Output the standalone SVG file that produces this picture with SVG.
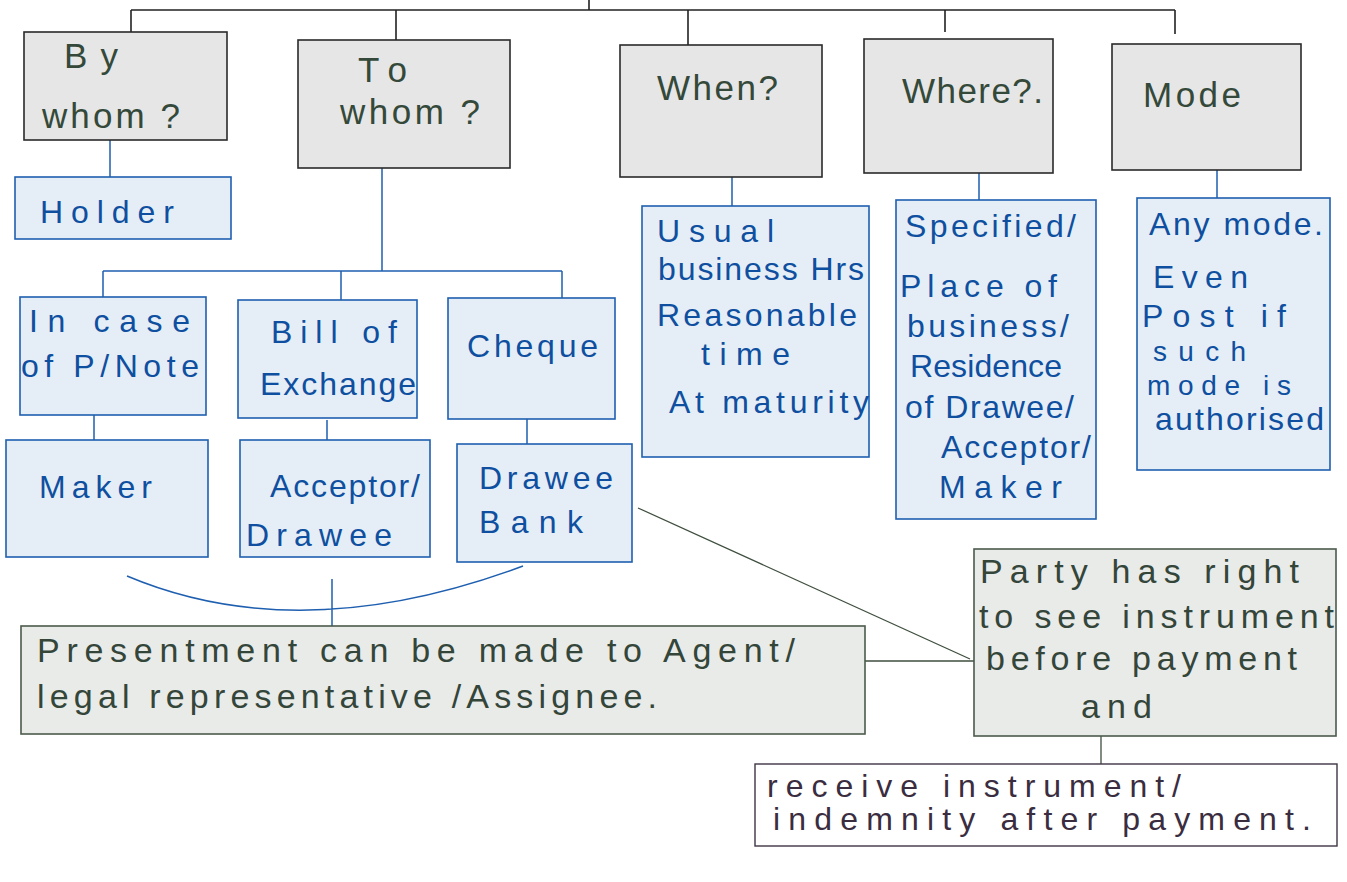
<svg xmlns="http://www.w3.org/2000/svg" width="1347" height="882" viewBox="0 0 1347 882">
<style>
  .hdr{fill:#e6e6e6;stroke:#2a2a2a;stroke-width:1.6}
  .blu{fill:#e5eef7;stroke:#1f5fb0;stroke-width:1.6}
  .grn{fill:#e9ebe8;stroke:#4a5a4a;stroke-width:1.6}
  .wht{fill:#ffffff;stroke:#3f3444;stroke-width:1.4}
  text{font-family:"Liberation Sans",Arial,sans-serif}
  .th{fill:#34493a;font-size:35px}
  .tb{fill:#0f4fa0;font-size:32px}
  .ts{fill:#0f4fa0;font-size:28px}
  .tg{fill:#34453a;font-size:34px}
  .tp{fill:#3a2d40;font-size:32px}
  .lk{stroke:#222;stroke-width:1.6;fill:none}
  .lb{stroke:#1f5fb0;stroke-width:1.5;fill:none}
  .lg{stroke:#3f4f3f;stroke-width:1.3;fill:none}
</style>
<rect width="1347" height="882" fill="#ffffff"/>
<g id="connectors">
  <path class="lk" d="M589 0V10M131 10H1175M131 10V32M396 10V40M688 10V45M945 10V32M1175 10V34"/>
  <path class="lb" d="M110 140V177M382 168V271M103 271H562M103 271V297M341 271V300M562 271V298M94 415V440M327 420V440M527 419V444M732 177V206M979 173V200M1217 170V198"/>
  <path class="lb" d="M127 576Q300 649 523 566M332 579V626"/>
  <path class="lg" d="M865 661H974M638 508L970 659M1101 736V764"/>
</g>
<g id="by-whom"><rect class="hdr" x="24" y="32" width="203" height="108"/><text class="th" x="64" y="68" textLength="54" lengthAdjust="spacing">By</text><text class="th" x="42" y="128" textLength="138" lengthAdjust="spacing">whom ?</text></g>
<g id="to-whom"><rect class="hdr" x="298" y="40" width="212" height="128"/><text class="th" x="358" y="82" textLength="49" lengthAdjust="spacing">To</text><text class="th" x="340" y="124" textLength="140" lengthAdjust="spacing">whom ?</text></g>
<g id="when"><rect class="hdr" x="620" y="45" width="202" height="132"/><text class="th" x="657" y="100" textLength="121" lengthAdjust="spacing">When?</text></g>
<g id="where"><rect class="hdr" x="864" y="39" width="189" height="134"/><text class="th" x="902" y="103" textLength="141" lengthAdjust="spacing">Where?.</text></g>
<g id="mode"><rect class="hdr" x="1112" y="44" width="189" height="126"/><text class="th" x="1143" y="107" textLength="98" lengthAdjust="spacing">Mode</text></g>
<g id="holder"><rect class="blu" x="15" y="177" width="216" height="62"/><text class="tb" x="40" y="223" textLength="134" lengthAdjust="spacing">Holder</text></g>
<g id="usual"><rect class="blu" x="642" y="206" width="227" height="251"/>
  <text class="tb" x="657" y="242" textLength="117" lengthAdjust="spacing">Usual</text>
  <text class="tb" x="658" y="280" textLength="206" lengthAdjust="spacing">business Hrs</text>
  <text class="tb" x="657" y="326" textLength="200" lengthAdjust="spacing">Reasonable</text>
  <text class="tb" x="701" y="365" textLength="89" lengthAdjust="spacing">time</text>
  <text class="tb" x="669" y="413" textLength="200" lengthAdjust="spacing">At maturity</text></g>
<g id="specified"><rect class="blu" x="896" y="200" width="200" height="319"/>
  <text class="tb" x="905" y="237" textLength="171" lengthAdjust="spacing">Specified/</text>
  <text class="tb" x="900" y="297" textLength="157" lengthAdjust="spacing">Place of</text>
  <text class="tb" x="907" y="337" textLength="162" lengthAdjust="spacing">business/</text>
  <text class="tb" x="910" y="377" textLength="152" lengthAdjust="spacing">Residence</text>
  <text class="tb" x="905" y="418" textLength="169" lengthAdjust="spacing">of Drawee/</text>
  <text class="tb" x="941" y="458" textLength="150" lengthAdjust="spacing">Acceptor/</text>
  <text class="tb" x="939" y="498" textLength="123" lengthAdjust="spacing">Maker</text></g>
<g id="any-mode"><rect class="blu" x="1137" y="198" width="193" height="272"/>
  <text class="tb" x="1149" y="235" textLength="174" lengthAdjust="spacing">Any mode.</text>
  <text class="tb" x="1153" y="288" textLength="95" lengthAdjust="spacing">Even</text>
  <text class="tb" x="1142" y="327" textLength="144" lengthAdjust="spacing">Post if</text>
  <text class="ts" x="1153" y="361" textLength="93" lengthAdjust="spacing">such</text>
  <text class="ts" x="1147" y="395" textLength="144" lengthAdjust="spacing">mode is</text>
  <text class="tb" x="1155" y="430" textLength="169" lengthAdjust="spacing">authorised</text></g>
<g id="in-case"><rect class="blu" x="20" y="297" width="186" height="118"/>
  <text class="tb" x="29" y="332" textLength="161" lengthAdjust="spacing">In case</text>
  <text class="tb" x="21" y="377" textLength="178" lengthAdjust="spacing">of P/Note</text></g>
<g id="bill"><rect class="blu" x="238" y="300" width="179" height="118"/>
  <text class="tb" x="271" y="343" textLength="126" lengthAdjust="spacing">Bill of</text>
  <text class="tb" x="260" y="395" textLength="156" lengthAdjust="spacing">Exchange</text></g>
<g id="cheque"><rect class="blu" x="448" y="298" width="167" height="121"/>
  <text class="tb" x="467" y="357" textLength="131" lengthAdjust="spacing">Cheque</text></g>
<g id="maker"><rect class="blu" x="6" y="440" width="202" height="117"/>
  <text class="tb" x="39" y="498" textLength="113" lengthAdjust="spacing">Maker</text></g>
<g id="acceptor"><rect class="blu" x="240" y="440" width="190" height="117"/>
  <text class="tb" x="270" y="497" textLength="150" lengthAdjust="spacing">Acceptor/</text>
  <text class="tb" x="246" y="546" textLength="146" lengthAdjust="spacing">Drawee</text></g>
<g id="drawee-bank"><rect class="blu" x="457" y="444" width="175" height="118"/>
  <text class="tb" x="479" y="489" textLength="134" lengthAdjust="spacing">Drawee</text>
  <text class="tb" x="479" y="533" textLength="104" lengthAdjust="spacing">Bank</text></g>
<g id="presentment"><rect class="grn" x="21" y="626" width="844" height="108"/>
  <text class="tg" x="37" y="662" textLength="758" lengthAdjust="spacing">Presentment can be made to Agent/</text>
  <text class="tg" x="37" y="708" textLength="620" lengthAdjust="spacing">legal representative /Assignee.</text></g>
<g id="party"><rect class="grn" x="974" y="549" width="362" height="187"/>
  <text class="tg" x="980" y="583" textLength="319" lengthAdjust="spacing">Party has right</text>
  <text class="tg" x="979" y="628" textLength="355" lengthAdjust="spacing">to see instrument</text>
  <text class="tg" x="986" y="670" textLength="311" lengthAdjust="spacing">before payment</text>
  <text class="tg" x="1081" y="718" textLength="71" lengthAdjust="spacing">and</text></g>
<g id="receive"><rect class="wht" x="755" y="764" width="582" height="82"/>
  <text class="tp" x="767" y="797" textLength="414" lengthAdjust="spacing">receive instrument/</text>
  <text class="tp" x="773" y="830" textLength="538" lengthAdjust="spacing">indemnity after payment.</text></g>
</svg>
